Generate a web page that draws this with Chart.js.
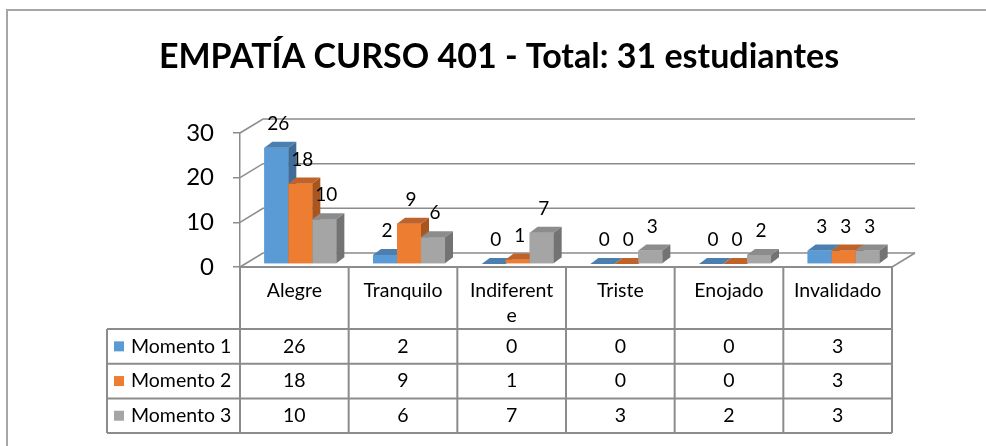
<!DOCTYPE html>
<html>
<head>
<meta charset="utf-8">
<script src="https://cdn.jsdelivr.net/npm/chart.js@4.4.1/dist/chart.umd.min.js"></script>
<style>
  html, body { margin: 0; padding: 0; background: #fff; }
  #wrap { width: 986px; height: 446px; position: relative; }
</style>
</head>
<body>
<div id="wrap"><canvas id="empatia"></canvas></div>
<script>
const categories = ['Alegre', 'Tranquilo', ['Indiferent', 'e'], 'Triste', 'Enojado', 'Invalidado'];
const seriesNames = ['Momento 1', 'Momento 2', 'Momento 3'];
const momento1 = [26, 2, 0, 0, 0, 3];
const momento2 = [18, 9, 1, 0, 0, 3];
const momento3 = [10, 6, 7, 3, 2, 3];
const yTicks = [0, 10, 20, 30];

const frontColors = ['#5B9BD5', '#ED7D31', '#A5A5A5'];
const topColors = ['#4A7FB0', '#C0632A', '#8C8C8C'];
const sideColors = ['#3F6D98', '#A85520', '#737373'];

const FONT = 'Lato, "Liberation Sans", sans-serif';
const LINE = '#8C8C8C';

// depth of floor / back wall, depth of the bars, and where the bars sit on the floor
const WALL = { dx: 23, dy: -14 };
const BAR = { dx: 8, dy: -6 };
const SHIFT = { dx: 6, dy: -3 };

const box3d = {
  id: 'box3d',
  beforeDraw(chart) {
    const ctx = chart.ctx;
    ctx.save();
    ctx.strokeStyle = '#A6A6A6';
    ctx.lineWidth = 2;
    ctx.beginPath();
    ctx.moveTo(7, 446);
    ctx.lineTo(7, 10);
    ctx.lineTo(986, 10);
    ctx.stroke();
    ctx.restore();
  },
  beforeDatasetsDraw(chart) {
    const { ctx, chartArea: a, scales: { y } } = chart;
    ctx.save();
    ctx.strokeStyle = LINE;
    ctx.lineWidth = 1.5;
    yTicks.forEach(v => {
      const py = y.getPixelForValue(v);
      ctx.beginPath();
      ctx.moveTo(a.left, py);
      ctx.lineTo(a.left + WALL.dx, py + WALL.dy);
      ctx.lineTo(a.right + WALL.dx, py + WALL.dy);
      ctx.stroke();
    });
    const base = y.getPixelForValue(0);
    ctx.beginPath();
    ctx.moveTo(a.right, base);
    ctx.lineTo(a.right + WALL.dx, base + WALL.dy);
    ctx.stroke();
    ctx.restore();
    // bars stand a little back on the floor
    ctx.save();
    ctx.translate(SHIFT.dx, SHIFT.dy);
  },
  afterDatasetsDraw(chart) {
    const ctx = chart.ctx;
    for (let i = 0; i < categories.length; i++) {
      chart.data.datasets.forEach((ds, d) => {
        const bar = chart.getDatasetMeta(d).data[i];
        const { x, y, base, width } = bar.getProps(['x', 'y', 'base', 'width'], true);
        const l = x - width / 2, r = x + width / 2;
        ctx.fillStyle = frontColors[d];
        ctx.fillRect(l, y, width, base - y);
        ctx.fillStyle = topColors[d];
        ctx.beginPath();
        ctx.moveTo(l, y);
        ctx.lineTo(l + BAR.dx, y + BAR.dy);
        ctx.lineTo(r + BAR.dx, y + BAR.dy);
        ctx.lineTo(r, y);
        ctx.closePath();
        ctx.fill();
        ctx.fillStyle = sideColors[d];
        ctx.beginPath();
        ctx.moveTo(r, y);
        ctx.lineTo(r + BAR.dx, y + BAR.dy);
        ctx.lineTo(r + BAR.dx, base + BAR.dy);
        ctx.lineTo(r, base);
        ctx.closePath();
        ctx.fill();
      });
    }
    ctx.fillStyle = '#000';
    ctx.font = '19px ' + FONT;
    ctx.textAlign = 'center';
    ctx.textBaseline = 'middle';
    chart.data.datasets.forEach((ds, d) => {
      chart.getDatasetMeta(d).data.forEach((bar, i) => {
        ctx.fillText(String(ds.data[i]), bar.x + 2, bar.y - 24);
      });
    });
    ctx.restore();
  },
  afterDraw(chart) {
    // data table under the plot
    const { ctx, chartArea: a, scales: { x } } = chart;
    const n = categories.length;
    const colW = (a.right - a.left) / n;
    const top = a.bottom;
    const headH = 62, rowH = 34.7;
    const legL = 107;
    const rows = [momento1, momento2, momento3];
    const bottom = top + headH + rowH * rows.length;

    ctx.save();
    ctx.strokeStyle = LINE;
    ctx.lineWidth = 2;
    ctx.beginPath();
    ctx.moveTo(a.left, top);
    ctx.lineTo(a.right, top);
    for (let r = 0; r <= rows.length; r++) {
      const yy = top + headH + rowH * r;
      ctx.moveTo(legL, yy);
      ctx.lineTo(a.right, yy);
    }
    for (let k = 0; k <= n; k++) {
      const xx = a.left + colW * k;
      ctx.moveTo(xx, top);
      ctx.lineTo(xx, bottom);
    }
    ctx.moveTo(legL, top + headH);
    ctx.lineTo(legL, bottom);
    ctx.stroke();

    ctx.fillStyle = '#000';
    ctx.font = '19.5px ' + FONT;
    ctx.textAlign = 'center';
    ctx.textBaseline = 'middle';
    categories.forEach((c, i) => {
      const cx = x.getPixelForValue(i);
      const lines = Array.isArray(c) ? c : [c];
      lines.forEach((t, li) => ctx.fillText(t, cx, top + 24 + li * 25));
    });
    rows.forEach((vals, r) => {
      const cy = top + headH + rowH * (r + 0.5);
      vals.forEach((v, i) => ctx.fillText(String(v), x.getPixelForValue(i), cy));
      ctx.fillStyle = frontColors[r];
      ctx.fillRect(legL + 7, cy - 5, 10, 10);
      ctx.fillStyle = '#000';
      ctx.textAlign = 'left';
      ctx.fillText(seriesNames[r], legL + 24, cy);
      ctx.textAlign = 'center';
    });
    ctx.restore();
  }
};

new Chart(document.getElementById('empatia'), {
  type: 'bar',
  data: {
    labels: categories,
    datasets: [
      { label: seriesNames[0], data: momento1, backgroundColor: frontColors[0] },
      { label: seriesNames[1], data: momento2, backgroundColor: frontColors[1] },
      { label: seriesNames[2], data: momento3, backgroundColor: frontColors[2] }
    ]
  },
  options: {
    responsive: true,
    maintainAspectRatio: false,
    animation: false,
    categoryPercentage: 0.663,
    barPercentage: 1,
    layout: { padding: { left: 12, right: 0, top: 0, bottom: 179 } },
    plugins: {
      legend: { display: false },
      tooltip: { enabled: false },
      title: {
        display: true,
        text: 'EMPATÍA CURSO 401 - Total: 31 estudiantes',
        color: '#000',
        font: { family: FONT, size: 34, weight: 'bold' },
        padding: { top: 36.6, bottom: 55.6 }
      }
    },
    scales: {
      x: { display: false },
      y: {
        min: 0,
        max: 30,
        ticks: { stepSize: 10, color: '#000', padding: 19, font: { family: FONT, size: 24 } },
        grid: { drawOnChartArea: false, drawTicks: true, tickLength: 7, color: LINE, lineWidth: 1.5 },
        border: { color: LINE, width: 1.5 },
        afterFit(s) { s.width = 228; }
      },
      y2: {
        position: 'right',
        display: true,
        grid: { display: false },
        ticks: { display: false },
        border: { display: false },
        afterFit(s) { s.width = 94; }
      }
    }
  },
  plugins: [box3d]
});
</script>
</body>
</html>
